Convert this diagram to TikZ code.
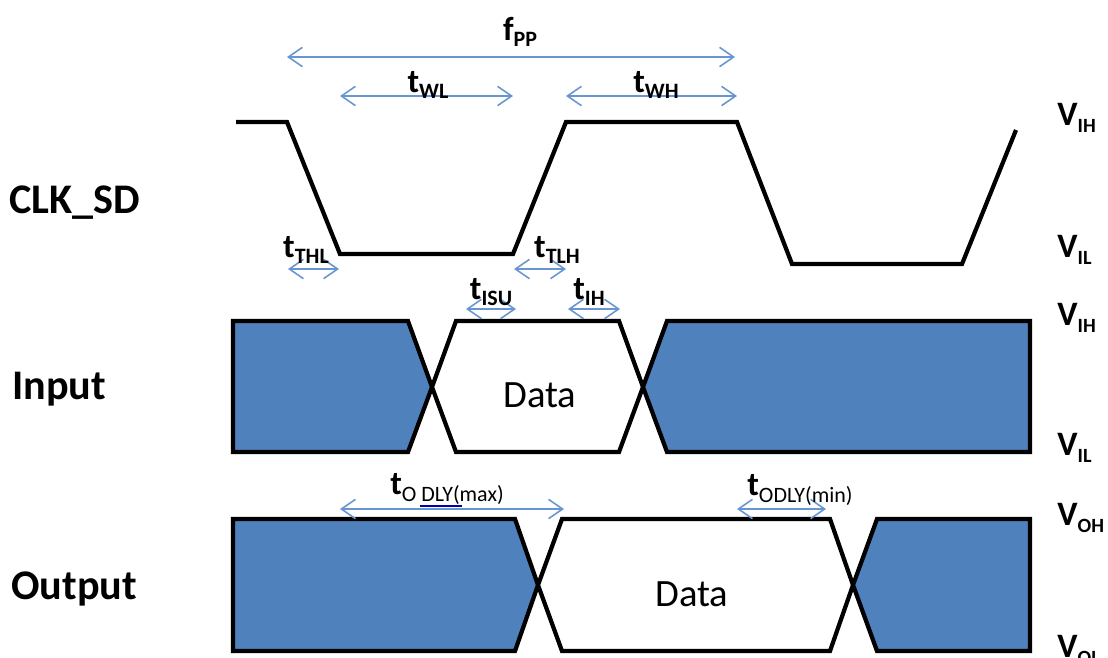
\documentclass[tikz,border=0pt]{standalone}
\usepackage{fontspec}
\setmainfont{Carlito}
\usetikzlibrary{arrows.meta}

\definecolor{busblue}{RGB}{79,129,189}
\definecolor{arrblue}{RGB}{104,150,210}

\newcommand{\tsig}[2]{\fontsize{19}{20}\selectfont\bfseries #1\raisebox{-.4ex}{\fontsize{12.5}{13}\selectfont #2}}
\newcommand{\tdly}[1]{\fontsize{19}{20}\selectfont\bfseries t\raisebox{-.4ex}{\fontsize{12.5}{13}\selectfont\mdseries #1}}
\newcommand{\vlev}[1]{\fontsize{19.5}{21}\selectfont\bfseries V\raisebox{-.45ex}{\fontsize{11.5}{12}\selectfont #1}}

\tikzset{
  wave/.style={line width=2.4pt},
  busbox/.style={line width=2.4pt, fill=busblue},
  databox/.style={line width=2.4pt, fill=white},
  dimarrow/.style={arrblue, line width=0.9pt,
    {Straight Barb[length=8pt,width=11pt]}-{Straight Barb[length=8pt,width=11pt]}},
  signame/.style={anchor=west, inner sep=0pt, font=\fontsize{24}{27}\selectfont\bfseries},
  level/.style={anchor=west, inner sep=0pt},
  timelab/.style={inner sep=0pt},
  datalab/.style={inner sep=0pt, font=\fontsize{22}{24}\selectfont}
}

\begin{document}
\begin{tikzpicture}[x=0.02cm, y=-0.02cm]

\useasboundingbox (0,0) rectangle (1108,657) ;

% clock
\coordinate (c0) at (236,122) ;
\coordinate (c1) at (287,122) ;
\coordinate (c2) at (340,254) ;
\coordinate (c3) at (513,254) ;
\coordinate (c4) at (566,122) ;
\coordinate (c5) at (737,122) ;
\coordinate (c6) at (792,264) ;
\coordinate (c7) at (962,264) ;
\coordinate (c8) at (1016,130) ;
\draw [wave] (c0) -- (c1) -- (c2) -- (c3) -- (c4) -- (c5) -- (c6) -- (c7) -- (c8) ;

% input bus
\draw [busbox] (233,321) -- (408,321) -- (432,387) -- (408,452) -- (233,452) -- cycle ;
\draw [databox] (432,387) -- (456,321) -- (619,321) -- (643,387) -- (619,452) -- (456,452) -- cycle ;
\draw [busbox] (643,387) -- (667,321) -- (1030,321) -- (1030,452) -- (667,452) -- cycle ;

% output bus
\draw [busbox] (233,519) -- (515,519) -- (538,585) -- (515,651) -- (233,651) -- cycle ;
\draw [databox] (538,585) -- (562,519) -- (830,519) -- (853,585) -- (830,651) -- (562,651) -- cycle ;
\draw [busbox] (853,585) -- (877,519) -- (1030,519) -- (1030,651) -- (877,651) -- cycle ;

\node [datalab] (din) at (540,395) {Data} ;
\node [datalab] (dout) at (692,594) {Data} ;

% signal names
\node [signame] (clk) at (9,203) {CLK\_SD} ;
\node [signame] (inp) at (12,389) {Input} ;
\node [signame] (outp) at (11,589) {Output} ;

% levels
\node [level] (vih1) at (1057,118) {\vlev{IH}} ;
\node [level] (vil1) at (1057,250) {\vlev{IL}} ;
\node [level] (vih2) at (1057,318) {\vlev{IH}} ;
\node [level] (vil2) at (1057,448) {\vlev{IL}} ;
\node [level] (voh) at (1057,518) {\vlev{OH}} ;
\node [level] (vol) at (1057,650) {\vlev{OL}} ;

% timing arrows
\coordinate (fpp-l) at (287,57) ;   \coordinate (fpp-r) at (735,57) ;
\coordinate (twl-l) at (340,96) ;   \coordinate (twl-r) at (513,96) ;
\coordinate (twh-l) at (566,96) ;   \coordinate (twh-r) at (737,96) ;
\coordinate (thl-l) at (288,269) ;  \coordinate (thl-r) at (339,269) ;
\coordinate (tlh-l) at (514,269) ;  \coordinate (tlh-r) at (566,269) ;
\coordinate (isu-l) at (466,309) ;  \coordinate (isu-r) at (516,309) ;
\coordinate (ih-l) at (568,309) ;   \coordinate (ih-r) at (620,309) ;
\coordinate (dmax-l) at (340,509) ; \coordinate (dmax-r) at (564,509) ;
\coordinate (dmin-l) at (737,509) ; \coordinate (dmin-r) at (826,509) ;

\draw [dimarrow] (fpp-l) -- (fpp-r) ;
\draw [dimarrow] (twl-l) -- (twl-r) ;
\draw [dimarrow] (twh-l) -- (twh-r) ;
\draw [dimarrow] (thl-l) -- (thl-r) ;
\draw [dimarrow] (tlh-l) -- (tlh-r) ;
\draw [dimarrow] (isu-l) -- (isu-r) ;
\draw [dimarrow] (ih-l) -- (ih-r) ;
\draw [dimarrow] (dmax-l) -- (dmax-r) ;
\draw [dimarrow] (dmin-l) -- (dmin-r) ;

\node [timelab] (fpp) at (520,32) {\tsig{f}{PP}} ;
\node [timelab] (twl) at (428,85) {\tsig{t}{WL}} ;
\node [timelab] (twh) at (656,85) {\tsig{t}{WH}} ;
\node [timelab] (thl) at (306,250) {\tsig{t}{THL}} ;
\node [timelab] (tlh) at (557,250) {\tsig{t}{TLH}} ;
\node [timelab] (isu) at (491,292) {\tsig{t}{ISU}} ;
\node [timelab] (ih) at (589,292) {\tsig{t}{IH}} ;
\node [timelab] (dmax) at (447,489) {\tdly{O DLY(max)}} ;
\node [timelab] (dmin) at (800,490) {\tdly{ODLY(min)}} ;
\draw [blue!70!black, line width=0.8pt] (420,506) -- (462,506) ;

\end{tikzpicture}
\end{document}
